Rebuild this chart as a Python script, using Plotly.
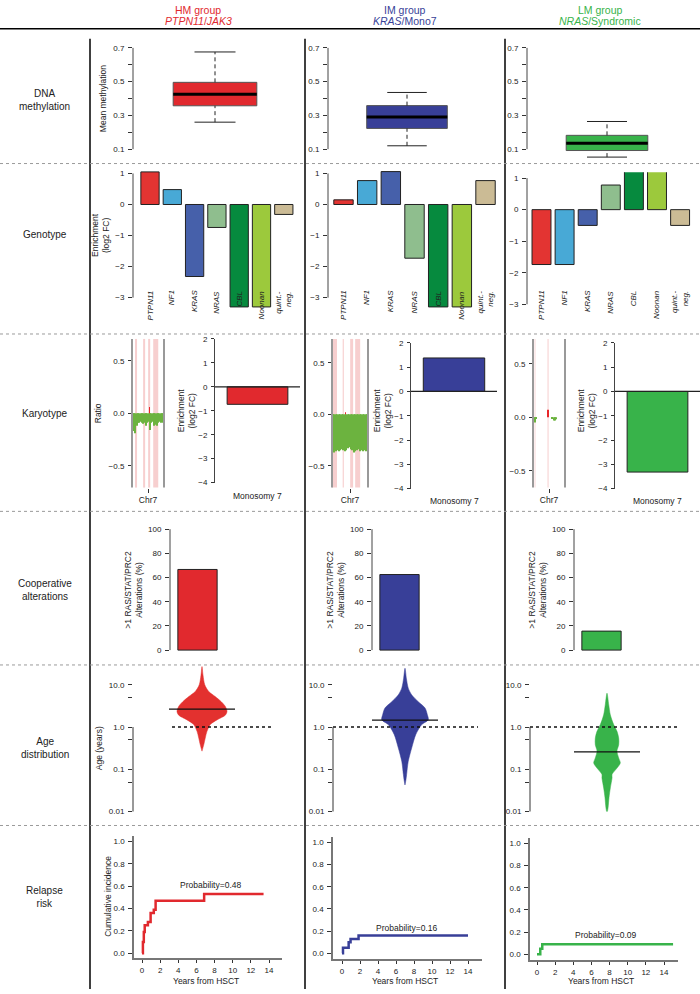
import plotly.graph_objects as go

W, H = 700, 994

# ---------------- data ----------------
group_titles = ["HM group", "IM group", "LM group"]
group_subtitles = ["<i>PTPN11</i>/<i>JAK3</i>", "<i>KRAS</i>/Mono7", "<i>NRAS</i>/Syndromic"]
group_colors = ["#e1292e", "#383f98", "#38b34a"]
row_labels = ["DNA<br>methylation", "Genotype", "Karyotype",
              "Cooperative<br>alterations", "Age<br>distribution", "Relapse<br>risk"]

# DNA methylation box statistics
meth_low = [0.26, 0.12, 0.053]
meth_q1 = [0.357, 0.223, 0.092]
meth_median = [0.425, 0.29, 0.135]
meth_q3 = [0.496, 0.358, 0.182]
meth_high = [0.676, 0.436, 0.264]

# Genotype enrichment (log2 FC)
genotype_labels = ["PTPN11", "NF1", "KRAS", "NRAS", "CBL", "Noonan", "quint.-<br>neg."]
genotype_colors = ["#e33432", "#48a9d6", "#4660aa", "#8fbe8e", "#068a3e", "#9cc93c", "#cbbb95"]
geno_hm = [1.05, 0.48, -2.32, -0.74, -3.3, -3.3, -0.32]
geno_im = [0.15, 0.77, 1.06, -1.73, -3.3, -3.3, 0.77]
geno_lm = [-1.74, -1.74, -0.50, 0.78, 1.21, 1.21, -0.50]

# Karyotype: chr7 copy-number ratio (bin start in Mb)
chr7_bins = [0, 6.6, 13.2, 19.8, 26.4, 33, 39.6, 46.2, 52.8, 59.4, 66, 72.6,
             79.2, 85.8, 92.4, 99, 105.6, 112.2, 118.8, 125.4, 132, 138.6, 145.2, 151.8]
ratio_hm = [-0.10, -0.17, -0.19, -0.12, -0.09, -0.09, -0.08, -0.09, -0.10, -0.09, -0.12, -0.09,
            -0.08, -0.16, -0.09, -0.08, -0.12, -0.11, -0.12, -0.09, -0.08, -0.09, -0.08, -0.09]
ratio_im = [-0.36, -0.37, -0.36, -0.35, -0.36, -0.35, -0.34, -0.35, -0.36, -0.35, -0.33, -0.32,
            -0.34, -0.35, -0.37, -0.36, -0.35, -0.34, -0.36, -0.35, -0.36, -0.35, -0.36, -0.35]
ratio_lm = [-0.02, -0.05, -0.01, 0.0, 0.0, 0.0, 0.0, 0.0, 0.0, 0.0, 0.0, 0.0,
            0.0, 0.0, -0.01, -0.03, -0.03, -0.02, 0.0, 0.0, 0.0, 0.0, 0.0, 0.0]
gain_pos = [[86], [60], [75]]
gain_val = [[0.06], [0.02], [0.07]]
band_hm = [(15, 25), (55, 65), (80, 90), (105, 130)]
band_im = [(0, 22), (47, 52), (80, 93), (102, 124)]
band_lm = [(8, 12), (72, 77)]
monosomy7 = [-0.73, 1.38, -3.32]

# Cooperative alterations (%)
coop = [66.7, 62.5, 15.7]

# Age distribution: violin outlines (log10 age, relative density) and medians
hm_age_log = [1.43, 1.23, 1.00, 0.84, 0.72, 0.60, 0.49, 0.37, 0.28, 0.17, 0.06, -0.10, -0.26, -0.42, -0.57]
hm_density = [0, 0.04, 0.11, 0.27, 0.53, 0.77, 0.93, 1.0, 0.93, 0.60, 0.33, 0.20, 0.13, 0.07, 0]
im_age_log = [1.39, 1.15, 0.92, 0.76, 0.60, 0.45, 0.29, 0.17, 0.06, -0.18, -0.49, -0.81, -1.12, -1.25, -1.37]
im_density = [0, 0.06, 0.14, 0.29, 0.57, 0.86, 0.96, 1.0, 0.72, 0.46, 0.29, 0.14, 0.07, 0.04, 0]
lm_age_log = [0.80, 0.53, 0.29, 0.06, -0.10, -0.26, -0.42, -0.57, -0.73, -0.85, -0.97, -1.12,
              -1.20, -1.44, -1.67, -1.91, -2.05]
lm_density = [0, 0.13, 0.25, 0.50, 0.75, 0.88, 0.88, 0.75, 0.88, 1.0, 0.75, 0.38,
              0.38, 0.25, 0.15, 0.08, 0]
age_median = [2.65, 1.46, 0.26]

# Relapse cumulative incidence
hm_time = [0, 0.1, 0.2, 0.3, 0.65, 0.95, 1.3, 1.5, 6.85, 13.4]
hm_cif = [0, 0.10, 0.19, 0.25, 0.28, 0.36, 0.39, 0.47, 0.53, 0.53]
im_time = [0, 0.11, 0.74, 0.95, 1.84, 14.0]
im_cif = [0, 0.05, 0.10, 0.13, 0.16, 0.16]
lm_time = [0, 0.36, 0.58, 15.0]
lm_cif = [0, 0.05, 0.09, 0.09]
relapse_prob = ["Probability=0.48", "Probability=0.16", "Probability=0.09"]
prob_pos = [(7.6, 0.61), (7.2, 0.23), (7.5, 0.17)]

# ---------------- helpers ----------------
FONT = "Liberation Sans, Arial, Helvetica, sans-serif"
TXT = "#222222"
TICKFONT = dict(size=8, color=TXT, family=FONT)
layout = dict(width=W, height=H, margin=dict(l=0, r=0, t=0, b=0),
              paper_bgcolor="white", plot_bgcolor="rgba(0,0,0,0)", showlegend=False,
              font=dict(family=FONT, size=9, color=TXT))
shapes, annotations, traces = [], [], []
counter = [0]


def lin(p, p0, v0, p1, v1):
    return v0 + (p - p0) * (v1 - v0) / (p1 - p0)


def py(p):
    return 1 - p / H


def make_axes(xdom, ydom, xr, yr, ylog=False):
    counter[0] += 1
    k = counter[0]
    s = "" if k == 1 else str(k)
    xref, yref = "x" + s, "y" + s
    base = dict(showgrid=False, zeroline=False, showline=False, showticklabels=False,
                ticks="", fixedrange=True)
    layout["xaxis" + s] = dict(base, domain=[xdom[0] / W, xdom[1] / W], range=xr, anchor=yref)
    ya = dict(base, domain=[1 - ydom[1] / H, 1 - ydom[0] / H], range=yr, anchor=xref)
    if ylog:
        ya["type"] = "log"
    layout["yaxis" + s] = ya
    return xref, yref, "xaxis" + s, "yaxis" + s


def yticks(yname, vals, text, ticklen=4):
    d = dict(ticks="outside", ticklen=ticklen, tickwidth=1, tickcolor="#333",
             showticklabels=True, tickvals=vals, ticktext=text, tickfont=TICKFONT,
             ticklabelstandoff=2)
    layout[yname].update(d)


def axis_line(xref, yref, y0, y1, color="#333", width=1):
    shapes.append(dict(type="line", xref=xref + " domain", x0=0, x1=0, yref=yref,
                       y0=y0, y1=y1, line=dict(color=color, width=width)))


def text(x, y, s, size=8.5, angle=0, color=TXT, xref="paper", yref="paper",
         xanchor="center", yanchor="middle", align="center"):
    annotations.append(dict(x=x, y=y, xref=xref, yref=yref, text=s, showarrow=False,
                            textangle=angle, xanchor=xanchor, yanchor=yanchor, align=align,
                            font=dict(size=size, color=color, family=FONT)))


def minus(v):
    return str(v).replace("-", "\u2212")

# ---------------- frame ----------------
col_centers = [198, 405, 600]
for g in range(3):
    text(col_centers[g] / W, py(6), group_titles[g], size=10.5, color=group_colors[g])
    text(col_centers[g] / W, py(17.5), group_subtitles[g], size=10.5, color=group_colors[g])
shapes.append(dict(type="line", xref="paper", yref="paper", x0=0, x1=1, y0=py(25), y1=py(25),
                   line=dict(color="black", width=1.5)))
for xv in [90, 305, 505]:
    shapes.append(dict(type="line", xref="paper", yref="paper", x0=xv / W, x1=xv / W,
                       y0=py(35), y1=0, line=dict(color="black", width=1.5)))
for yv in [161, 333, 512, 667, 829]:
    shapes.append(dict(type="line", xref="paper", yref="paper", x0=0, x1=1, y0=py(yv), y1=py(yv),
                       line=dict(color="#9a9a9a", width=1, dash="dot")))
row_y = [97, 233, 413, 591, 751, 901]
for lab, yv in zip(row_labels, row_y):
    text(45 / W, py(yv), lab, size=10)

# ---------------- DNA methylation ----------------
meth_axis_x = [133, 328, 527]
meth_center_x = [215, 407, 607]
for g in range(3):
    a, c = meth_axis_x[g], meth_center_x[g]
    yr = [lin(156, 146.5, 0.1, 44.3, 0.7), lin(36, 146.5, 0.1, 44.3, 0.7)]
    xr_, yr_, xn, yn = make_axes((a, 2 * c - a), (36, 156), [0, 2], yr)
    col = group_colors[g]
    traces.append(go.Bar(x=[1], y=[meth_q3[g] - meth_q1[g]], base=[meth_q1[g]], width=[1.02],
                         marker=dict(color=col, line=dict(color="#555", width=1)),
                         xaxis=xr_, yaxis=yr_))
    for y0, y1 in [(meth_q3[g], meth_high[g]), (meth_low[g], meth_q1[g])]:
        traces.append(go.Scatter(x=[1, 1], y=[y0, y1], mode="lines", xaxis=xr_, yaxis=yr_,
                                 line=dict(color="#222", width=1, dash="4px,3px")))
    for yv in [meth_high[g], meth_low[g]]:
        traces.append(go.Scatter(x=[0.75, 1.25], y=[yv, yv], mode="lines", xaxis=xr_, yaxis=yr_,
                                 line=dict(color="#222", width=1)))
    traces.append(go.Scatter(x=[0.49, 1.51], y=[meth_median[g]] * 2, mode="lines",
                             xaxis=xr_, yaxis=yr_, line=dict(color="black", width=3)))
    yticks(yn, [0.1, 0.2, 0.3, 0.4, 0.5, 0.6, 0.7], ["0.1", "", "0.3", "", "0.5", "", "0.7"])
    axis_line(xr_, yr_, 0.1, 0.7, color="#444")
text(103 / W, py(95), "Mean methylation", angle=-90)

# ---------------- Genotype ----------------
geno_vals = [geno_hm, geno_im, geno_lm]
geno_axis_x = [133, 328, 527]
geno_right = [297, 500, 697]
geno_first = [150, 343.5, 541.5]
geno_step = [22.3, 23.67, 23.1]
geno_ypx = [(171, 296.3), (171, 296.3), (175.7, 303)]  # px of +1 and -3
for g in range(3):
    p1, pm3 = geno_ypx[g]
    top, bot = p1 - 6, pm3 + 11
    xr = [lin(geno_axis_x[g], geno_first[g], 0, geno_first[g] + geno_step[g], 1),
          lin(geno_right[g], geno_first[g], 0, geno_first[g] + geno_step[g], 1)]
    yr = [lin(bot, p1, 1, pm3, -3), lin(top, p1, 1, pm3, -3)]
    xr_, yr_, xn, yn = make_axes((geno_axis_x[g], geno_right[g]), (top, bot), xr, yr)
    traces.append(go.Bar(x=list(range(7)), y=geno_vals[g], width=0.82,
                         marker=dict(color=genotype_colors, line=dict(color="#222", width=1)),
                         xaxis=xr_, yaxis=yr_))
    yticks(yn, [-3, -2, -1, 0, 1], [minus(v) for v in [-3, -2, -1, 0, 1]])
    axis_line(xr_, yr_, -3, 1, color="#444")
    for i, lab in enumerate(genotype_labels):
        text(i, py(287), "<i>%s</i>" % lab, size=8, angle=-90, xref=xr_,
             yanchor="top", align="right")
text(101 / W, py(233), "Enrichment<br>(log2 FC)", angle=-90)

# ---------------- Karyotype ----------------
ratio_vals = [ratio_hm, ratio_im, ratio_lm]
bands = [band_hm, band_im, band_lm]
ratio_dom_x = [(132, 164), (332, 368), (533, 565)]
ratio_ypx = [(360, 413), (362, 414), (363, 417)]  # px of 0.5 and 0.0
enr_dom_x = [(215, 300), (411, 497), (615, 700)]
enr_dom_y = [(338, 483), (342, 489), (342, 489)]
for g in range(3):
    p5, p0 = ratio_ypx[g]
    yr = [lin(488, p5, 0.5, p0, 0.0), lin(338, p5, 0.5, p0, 0.0)]
    xr_, yr_, xn, yn = make_axes(ratio_dom_x[g], (338, 488), [0, 158.4], yr)
    for b0, b1 in bands[g]:
        shapes.append(dict(type="rect", xref=xr_, yref=yr_ + " domain", x0=b0, x1=b1, y0=0, y1=1,
                           fillcolor="#f7cfcf", line=dict(width=0), layer="below"))
    traces.append(go.Bar(x=[b + 3.3 for b in chr7_bins], y=ratio_vals[g], width=6.6,
                         marker=dict(color="#6cb33f", line=dict(width=0)), xaxis=xr_, yaxis=yr_))
    traces.append(go.Bar(x=gain_pos[g], y=gain_val[g], width=1.6,
                         marker=dict(color="#e8262a", line=dict(width=0)), xaxis=xr_, yaxis=yr_))
    for xd in [0, 1]:
        shapes.append(dict(type="line", xref=xr_ + " domain", yref=yr_ + " domain", x0=xd, x1=xd,
                           y0=0, y1=1, line=dict(color="#999", width=2)))
    yticks(yn, [-0.5, 0, 0.5], ["\u22120.5", "0.0", "0.5"], ticklen=3)
    layout[xn].update(ticks="outside", ticklen=4, tickcolor="#333", tickvals=[79.2],
                      ticktext=["Chr7"], showticklabels=True, tickfont=dict(size=8.5, color=TXT))
    # enrichment bar
    ex, ey = enr_dom_x[g], enr_dom_y[g]
    xr_, yr_, xn, yn = make_axes(ex, ey, [0, 1.4], [-4, 2])
    traces.append(go.Bar(x=[0.7], y=[monosomy7[g]], width=1.0,
                         marker=dict(color=group_colors[g], line=dict(color="#222", width=1)),
                         xaxis=xr_, yaxis=yr_))
    shapes.append(dict(type="line", xref=xr_ + " domain", yref=yr_, x0=0, x1=1, y0=0, y1=0,
                       line=dict(color="#222", width=1.2)))
    yticks(yn, [-4, -3, -2, -1, 0, 1, 2], [minus(v) for v in [-4, -3, -2, -1, 0, 1, 2]], ticklen=3)
    layout[yn].update(showline=True, linecolor="#444", linewidth=1)
    text(0.7, py(ey[1] + 13), "Monosomy 7", xref=xr_)
    text((ex[0] - 29) / W, py(410), "Enrichment<br>(log2 FC)", angle=-90)
text(98 / W, py(413), "Ratio", angle=-90)

# ---------------- Cooperative alterations ----------------
coop_axis_x = [170, 372, 574]
for g in range(3):
    a = coop_axis_x[g]
    yr = [lin(656, 652, 0, 530, 100), lin(526, 652, 0, 530, 100)]
    xr_, yr_, xn, yn = make_axes((a, a + 55), (526, 656), [0, 1.4], yr)
    traces.append(go.Bar(x=[0.7], y=[coop[g]], width=1.0,
                         marker=dict(color=group_colors[g], line=dict(color="#222", width=1)),
                         xaxis=xr_, yaxis=yr_))
    yticks(yn, [0, 20, 40, 60, 80, 100], ["0", "20", "40", "60", "80", "100"])
    axis_line(xr_, yr_, 0, 100, color="#444")
    text((a - 36) / W, py(591), ">1 RAS/STAT/PRC2<br>Alterations (%)", angle=-90)

# ---------------- Age distribution ----------------
age_logs = [hm_age_log, im_age_log, lm_age_log]
age_dens = [hm_density, im_density, lm_density]
age_axis_x = [133, 333, 530]
age_center_x = [202, 405, 607]
age_right = [282, 482, 684]
violin_halfwidth = [25, 23.3, 13.3]
dotted_px = [(172, 273), (333, 478), (530, 678)]
violin_colors = ["#e3312f", "#383f98", "#38b34a"]
for g in range(3):
    a, c = age_axis_x[g], age_center_x[g]
    ylo = lin(815, 815, -2, 687, 1)
    yhi = lin(662, 815, -2, 687, 1)
    xr_, yr_, xn, yn = make_axes((a, age_right[g]), (662, 815), [a - c, age_right[g] - c],
                                 [ylo, yhi], ylog=True)
    ys = [10 ** v for v in age_logs[g]]
    hw = [d * violin_halfwidth[g] for d in age_dens[g]]
    traces.append(go.Scatter(x=hw + [-w for w in hw[::-1]], y=ys + ys[::-1], mode="lines",
                             fill="toself", fillcolor=violin_colors[g],
                             line=dict(color=violin_colors[g], width=0.5, shape="spline",
                                       smoothing=0.8),
                             xaxis=xr_, yaxis=yr_))
    d0, d1 = dotted_px[g]
    traces.append(go.Scatter(x=[d0 - c, d1 - c], y=[1, 1], mode="lines", xaxis=xr_, yaxis=yr_,
                             line=dict(color="#111", width=1.5, dash="dot")))
    traces.append(go.Scatter(x=[-33, 33], y=[age_median[g]] * 2, mode="lines", xaxis=xr_,
                             yaxis=yr_, line=dict(color="#111", width=1.2)))
    yticks(yn, [0.01, 0.05, 0.1, 0.5, 1, 5, 10], ["0.01", "", "0.1", "", "1.0", "", "10.0"])
    axis_line(xr_, yr_, -2, 1, color="#333")
text(99 / W, py(751), "Age (years)", angle=-90)

# ---------------- Relapse risk ----------------
rel_times = [hm_time, im_time, lm_time]
rel_cif = [hm_cif, im_cif, lm_cif]
rel_dom_x = [(134, 282), (333, 482), (530, 678)]
rel_x_px = [(142, 269), (342, 468), (537, 664)]  # px of 0 and 14
rel_dom_y = [(840, 963), (841, 964), (842, 965)]
rel_y_px = [(958, 845), (958, 846), (959, 847)]  # px of 0 and 1
for g in range(3):
    dx, dy = rel_dom_x[g], rel_dom_y[g]
    x0p, x14p = rel_x_px[g]
    y0p, y1p = rel_y_px[g]
    xr = [lin(dx[0], x0p, 0, x14p, 14), lin(dx[1], x0p, 0, x14p, 14)]
    yr = [lin(dy[1], y0p, 0, y1p, 1), lin(dy[0], y0p, 0, y1p, 1)]
    xr_, yr_, xn, yn = make_axes(dx, dy, xr, yr)
    traces.append(go.Scatter(x=rel_times[g], y=rel_cif[g], mode="lines", xaxis=xr_, yaxis=yr_,
                             line=dict(color=group_colors[g], width=2.5, shape="hv")))
    yticks(yn, [0, 0.2, 0.4, 0.6, 0.8, 1.0], ["0.0", "0.2", "0.4", "0.6", "0.8", "1.0"])
    layout[yn].update(showline=True, linecolor="#777", linewidth=1.5)
    layout[xn].update(showline=True, linecolor="#777", linewidth=1.5, ticks="outside",
                      ticklen=3, tickcolor="#333", showticklabels=True, ticklabelstandoff=0,
                      tickvals=[0, 2, 4, 6, 8, 10, 12, 14], tickfont=TICKFONT)
    px_, pyv = prob_pos[g]
    text(px_, pyv, relapse_prob[g], xref=xr_, yref=yr_, size=8.5)
    text(((x0p + x14p) / 2) / W, py(986), "Years from HSCT", size=8.5)
text(108 / W, py(901), "Cumulative incidence", angle=-90)

layout["shapes"] = shapes
layout["annotations"] = annotations
fig = go.Figure(data=traces, layout=layout)
fig.write_html("out.html", config={"displayModeBar": False},
               post_script="document.body.style.margin='0';document.body.style.overflow='hidden';")
